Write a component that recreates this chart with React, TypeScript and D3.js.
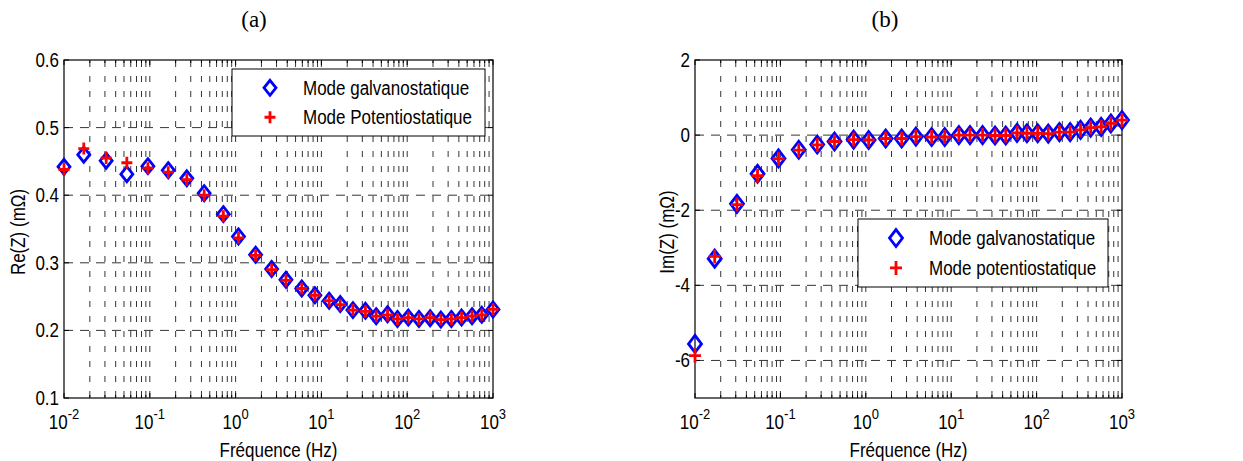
import React from "react";
import * as d3 from "d3";

const freq = [0.01, 0.017, 0.031, 0.054, 0.095, 0.164, 0.27, 0.43, 0.72, 1.08, 1.71, 2.63, 3.86, 5.9, 8.4, 12.3, 16.6, 23.3, 32.6, 43.5, 59, 77, 103, 137, 185, 247, 327, 430, 570, 740, 1000];
const reGalv = [0.442, 0.460, 0.451, 0.431, 0.443, 0.437, 0.425, 0.403, 0.372, 0.339, 0.312, 0.291, 0.275, 0.262, 0.252, 0.244, 0.239, 0.230, 0.229, 0.221, 0.224, 0.217, 0.219, 0.217, 0.218, 0.216, 0.217, 0.219, 0.221, 0.223, 0.231];
const rePot = [0.438, 0.469, 0.455, 0.448, 0.440, 0.434, 0.423, 0.400, 0.369, 0.337, 0.311, 0.290, 0.274, 0.262, 0.252, 0.244, 0.238, 0.230, 0.228, 0.221, 0.223, 0.217, 0.219, 0.217, 0.219, 0.216, 0.217, 0.219, 0.221, 0.223, 0.231];
const imGalv = [-5.56, -3.29, -1.83, -1.03, -0.62, -0.39, -0.25, -0.17, -0.12, -0.13, -0.09, -0.09, -0.04, -0.05, -0.05, 0.0, 0.0, 0.0, -0.01, -0.01, 0.06, 0.05, 0.05, 0.04, 0.08, 0.08, 0.14, 0.2, 0.22, 0.31, 0.40];
const imPot = [-5.87, -3.23, -1.85, -1.08, -0.63, -0.40, -0.26, -0.17, -0.12, -0.13, -0.09, -0.09, -0.04, -0.05, -0.05, 0.0, 0.0, 0.0, -0.01, -0.01, 0.06, 0.05, 0.05, 0.04, 0.08, 0.08, 0.14, 0.2, 0.22, 0.31, 0.40];

const xExponents = [-2, -1, 0, 1, 2, 3];
const reTicks = [0.1, 0.2, 0.3, 0.4, 0.5, 0.6];
const imTicks = [-6, -4, -2, 0, 2];

const FONT = "'Liberation Sans', Arial, sans-serif";
const SY = 1.15;

function T(props: { x: number; y: number; anchor?: string; size?: number; children: React.ReactNode; rotate?: boolean }) {
  const { x, y, anchor = "start", size = 17, rotate } = props;
  const tr = rotate ? `translate(${x},${y}) rotate(-90) scale(1,${SY})` : `translate(${x},${y}) scale(1,${SY})`;
  return (
    <text transform={tr} textAnchor={anchor as any} dy="0.36em" fontFamily={FONT} fontSize={size}>{props.children}</text>
  );
}

type PanelProps = {
  left: number; top: number; right: number; bottom: number;
  yDomain: [number, number]; yTicks: number[]; yFmt: (v: number) => string;
  galv: number[]; pot: number[];
  title: string; titleX: number;
  yLabel: string; yLabelX: number;
  legend: { x: number; y: number; w: number; h: number; labels: string[] };
  dx: number; dy: number; px: number; py: number;
};

function Panel(p: PanelProps) {
  const x = d3.scaleLog().domain([1e-2, 1e3]).range([p.left, p.right]);
  const y = d3.scaleLinear().domain(p.yDomain).range([p.bottom, p.top]);
  const allTicks: number[] = [];
  for (let e = -2; e < 3; e++) for (let m = 1; m <= 9; m++) allTicks.push(m * Math.pow(10, e));
  allTicks.push(1000);
  const minor = allTicks.filter((t) => !xExponents.some((e) => Math.abs(t - Math.pow(10, e)) < 1e-9));
  const diamond = (cx: number, cy: number, key: string) => (
    <path key={key} d={`M${cx},${cy - p.dy}L${cx + p.dx},${cy}L${cx},${cy + p.dy}L${cx - p.dx},${cy}Z`} fill="none" stroke="#0000ff" strokeWidth={2.8} />
  );
  const plus = (cx: number, cy: number, key: string) => (
    <path key={key} d={`M${cx - p.px},${cy}H${cx + p.px}M${cx},${cy - p.py}V${cy + p.py}`} stroke="#ff0000" strokeWidth={2.8} />
  );
  const lg = p.legend;
  return (
    <g>
      <text x={p.titleX} y={27} textAnchor="middle" fontFamily="'Liberation Serif', 'Times New Roman', serif" fontSize={23}>{p.title}</text>
      {allTicks.filter((t) => t > 1e-2 && t < 1e3).map((t, i) => (
        <line key={"vg" + i} x1={x(t)} x2={x(t)} y1={p.bottom} y2={p.top} stroke="#000" strokeWidth={0.8} strokeDasharray="6 9" strokeDashoffset={-16} />
      ))}
      {p.yTicks.filter((t) => y(t) > p.top + 1 && y(t) < p.bottom - 1).map((t, i) => (
        <line key={"hg" + i} x1={p.left} x2={p.right} y1={y(t)} y2={y(t)} stroke="#000" strokeWidth={0.8} strokeDasharray="9 7" />
      ))}
      {p.yTicks.map((t, i) => (
        <g key={"yt" + i}>
          <line x1={p.left} x2={p.left + 5} y1={y(t)} y2={y(t)} stroke="#000" />
          <line x1={p.right} x2={p.right - 5} y1={y(t)} y2={y(t)} stroke="#000" />
          <T x={p.left - 5} y={y(t)} anchor="end">{p.yFmt(t)}</T>
        </g>
      ))}
      {xExponents.map((e, i) => (
        <g key={"xt" + i}>
          <line x1={x(Math.pow(10, e))} x2={x(Math.pow(10, e))} y1={p.bottom} y2={p.bottom - 5} stroke="#000" />
          <line x1={x(Math.pow(10, e))} x2={x(Math.pow(10, e))} y1={p.top} y2={p.top + 5} stroke="#000" />
          <T x={x(Math.pow(10, e))} y={p.bottom + 24} anchor="middle">
            10<tspan dy={-9} fontSize={13}>{e}</tspan>
          </T>
        </g>
      ))}
      {minor.map((t, i) => (
        <g key={"mt" + i}>
          <line x1={x(t)} x2={x(t)} y1={p.bottom} y2={p.bottom - 3} stroke="#000" />
          <line x1={x(t)} x2={x(t)} y1={p.top} y2={p.top + 3} stroke="#000" />
        </g>
      ))}
      <rect x={p.left} y={p.top} width={p.right - p.left} height={p.bottom - p.top} fill="none" stroke="#000" strokeWidth={1.2} />
      <T x={(p.left + p.right) / 2} y={450} anchor="middle">Fréquence (Hz)</T>
      <T x={p.yLabelX} y={(p.top + p.bottom) / 2 + 3} anchor="middle" rotate>{p.yLabel}</T>
      {freq.map((f, i) => diamond(x(f), y(p.galv[i]), "d" + i))}
      {freq.map((f, i) => plus(x(f), y(p.pot[i]), "p" + i))}
      <rect x={lg.x} y={lg.y} width={lg.w} height={lg.h} fill="#fff" stroke="#000" strokeWidth={1} />
      {diamond(lg.x + 38, lg.y + lg.h * 0.28, "ld")}
      {plus(lg.x + 38, lg.y + lg.h * 0.72, "lp")}
      <T x={lg.x + 71} y={lg.y + lg.h * 0.28}>{lg.labels[0]}</T>
      <T x={lg.x + 71} y={lg.y + lg.h * 0.72}>{lg.labels[1]}</T>
    </g>
  );
}

export default function App() {
  return (
    <svg width={1243} height={461} style={{ display: "block", position: "absolute", left: 0, top: 0, background: "#fff" }}>
      <rect width={1243} height={461} fill="#fff" />
      <Panel left={64} top={60} right={493} bottom={398} yDomain={[0.1, 0.6]} yTicks={reTicks} yFmt={(v) => v.toFixed(1)}
        galv={reGalv} pot={rePot} title="(a)" titleX={254} yLabel="Re(Z) (mΩ)" yLabelX={18}
        legend={{ x: 232, y: 69, w: 253, h: 67, labels: ["Mode galvanostatique", "Mode Potentiostatique"] }}
        dx={6} dy={7.5} px={5.5} py={6} />
      <Panel left={695} top={60} right={1122} bottom={398} yDomain={[-7, 2]} yTicks={imTicks} yFmt={(v) => String(v)}
        galv={imGalv} pot={imPot} title="(b)" titleX={885} yLabel="Im(Z) (mΩ)" yLabelX={667}
        legend={{ x: 858, y: 219, w: 250, h: 68, labels: ["Mode galvanostatique", "Mode potentiostatique"] }}
        dx={6.5} dy={8.5} px={6} py={7} />
    </svg>
  );
}
